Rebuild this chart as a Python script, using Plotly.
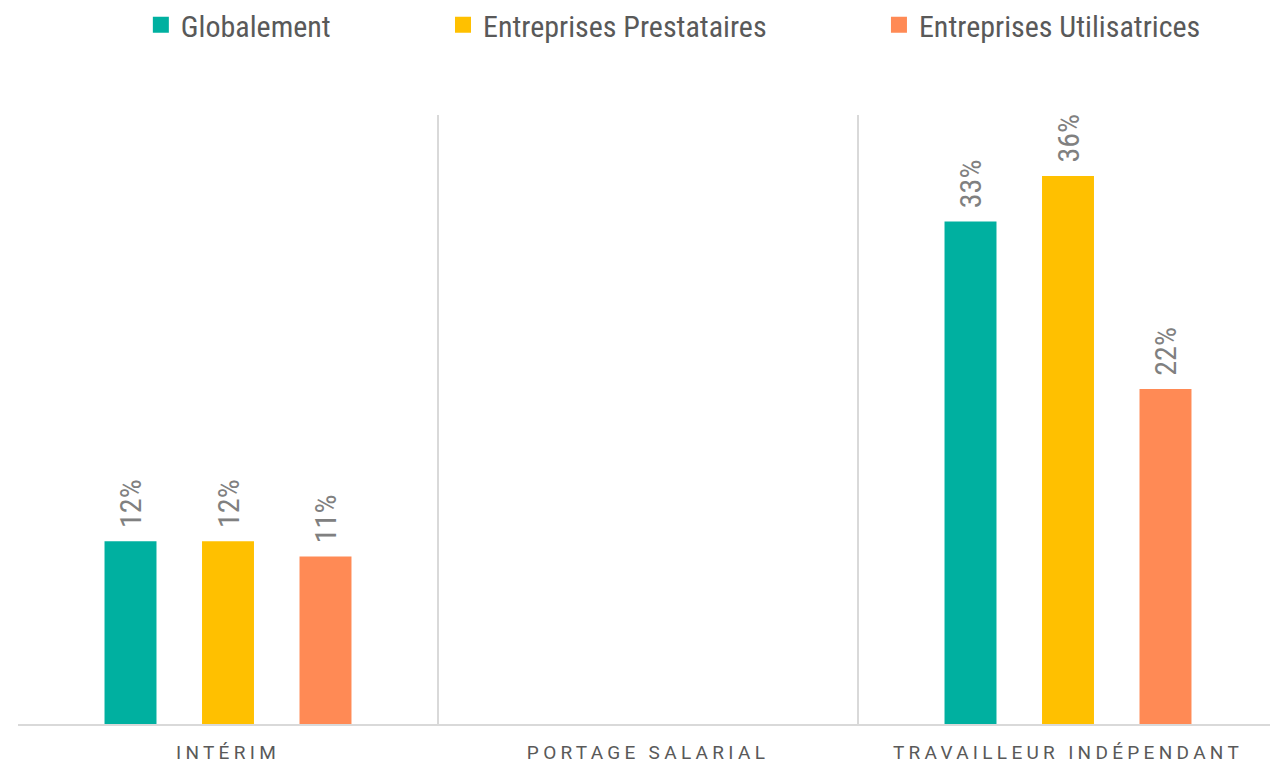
import plotly.graph_objects as go

categories = ["INTÉRIM", "PORTAGE SALARIAL", "TRAVAILLEUR INDÉPENDANT"]
series_names = ["Globalement", "Entreprises Prestataires", "Entreprises Utilisatrices"]
globalement = [0.12, None, 0.33]
prestataires = [0.12, None, 0.36]
utilisatrices = [0.11, None, 0.22]
colors = ["#00B0A0", "#FFC000", "#FF8A55"]

values = [globalement, prestataires, utilisatrices]

NARROW = "Liberation Sans Narrow, Arial Narrow, Roboto Condensed, Arial, sans-serif"
AXIS_FONT = "Roboto, Arial, sans-serif"

fig = go.Figure()
for name, vals, col in zip(series_names, values, colors):
    fig.add_trace(go.Bar(
        x=categories, y=vals, name=name, marker=dict(color=col, line=dict(width=0)),
        texttemplate="\u00a0\u202f%{y:.0%}", textposition="outside", textangle=-90,
        constraintext="none",
        textfont=dict(family=NARROW, size=30, color="#808080"),
        cliponaxis=False, showlegend=False, hoverinfo="skip",
    ))

legend_names = ["legend", "legend2", "legend3"]
for name, col, lg in zip(series_names, colors, legend_names):
    fig.add_trace(go.Scatter(
        x=[None], y=[None], mode="markers", name=name, legend=lg,
        marker=dict(symbol="square", size=16, color=col), showlegend=True,
    ))

leg_common = dict(orientation="h", yanchor="middle", y=1.148, xanchor="left",
                  font=dict(family=NARROW, size=30, color="#595959"),
                  bgcolor="rgba(0,0,0,0)", itemsizing="trace", borderwidth=0)
fig.update_layout(
    legend=dict(x=0.0975, **leg_common),
    legend2=dict(x=0.3373, **leg_common),
    legend3=dict(x=0.6833, **leg_common),
)

ticktext = ['<span style="letter-spacing:4.3px">%s</span>' % c for c in categories]

fig.update_layout(
    width=1270, height=756,
    margin=dict(l=10, r=0, t=107, b=40, autoexpand=False),
    paper_bgcolor="white", plot_bgcolor="white",
    barmode="group", bargap=0.3036, bargroupgap=0.467,
    xaxis=dict(
        type="category", range=[-0.5, 2.5], automargin=False,
        tickson="boundaries", showgrid=True, gridcolor="#D9D9D9", gridwidth=1.5,
        showline=True, linecolor="#D9D9D9", linewidth=2,
        ticks="", tickvals=categories, ticktext=ticktext,
        tickfont=dict(family=AXIS_FONT, size=19, color="#595959"),
        ticklabelstandoff=10,
    ),
    yaxis=dict(range=[0, 0.40], showgrid=False, showticklabels=False, automargin=False,
               zeroline=False, showline=False, ticks=""),
)

fig.write_html("out.html")
